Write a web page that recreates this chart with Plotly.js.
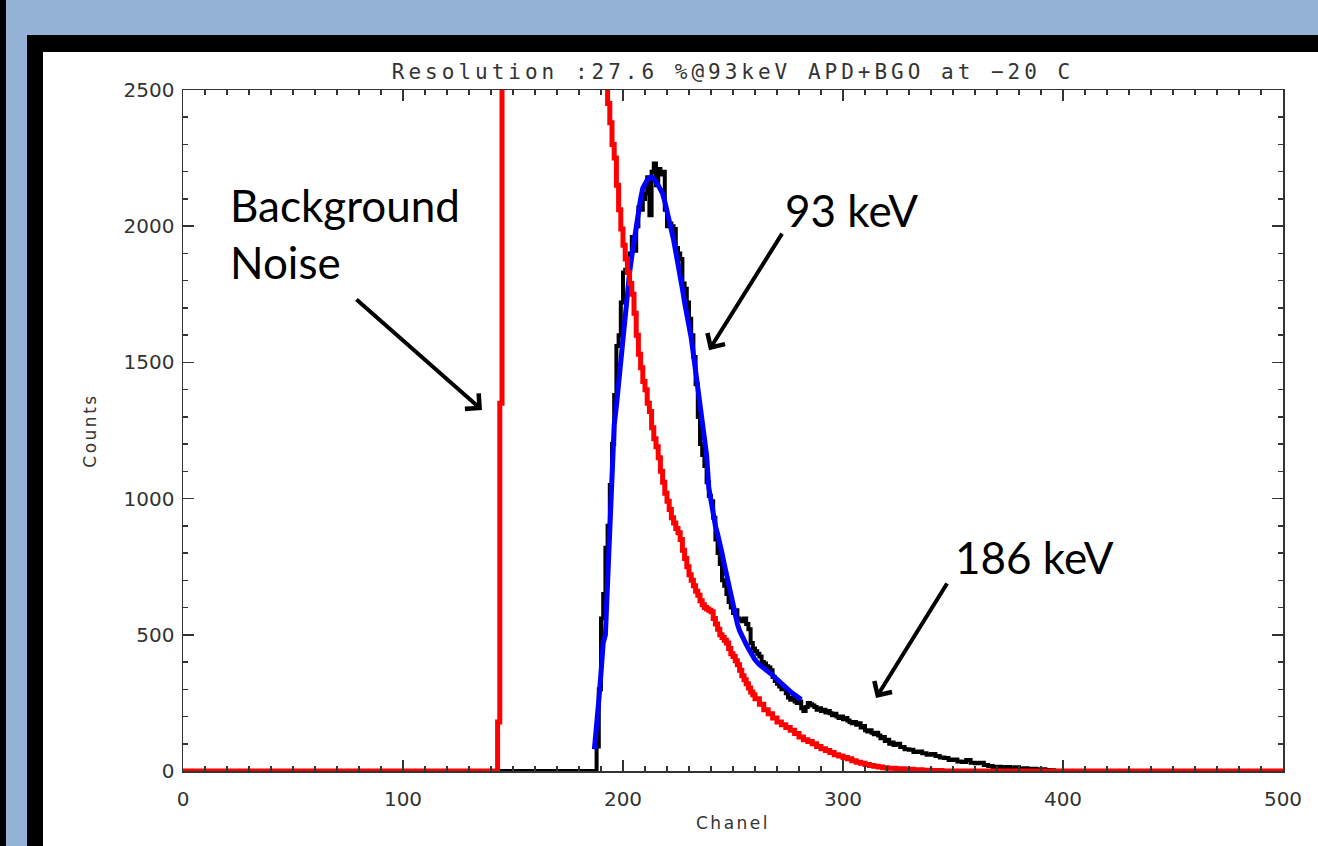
<!DOCTYPE html>
<html>
<head>
<meta charset="utf-8">
<script src="https://cdn.plot.ly/plotly-3.0.1.min.js"></script>
<style>
  html, body { margin:0; padding:0; background:#000; }
  #chart { width:1318px; height:846px; }
  .gtitle { letter-spacing: 4px; }
  .xtitle, .ytitle { letter-spacing: 2.5px; }
</style>
</head>
<body>
<div id="chart"></div>
<script>
// ---- Data ----
// Measured spectrum (black histogram)
const chanMeasured = [143, 187, 188, 189, 190, 191, 192, 193, 194, 195, 196, 197, 198, 199, 200,
  201, 202, 203, 204, 205, 206, 207, 208, 209, 210, 211, 212, 213, 214, 215, 216, 217, 218, 219, 220,
  221, 222, 223, 224, 225, 226, 227, 228, 229, 230, 231, 232, 233, 234, 235, 236, 237, 238, 239, 240,
  241, 242, 243, 244, 245, 246, 247, 248, 249, 250, 251, 252, 253, 254, 255, 256, 257, 258, 259, 260,
  261, 262, 263, 264, 265, 266, 267, 268, 269, 270, 271, 272, 273, 274, 275, 276, 277, 278, 279, 280,
  281, 282, 283, 284, 285, 286, 287, 288, 289, 290, 291, 292, 293, 294, 295, 296, 297, 298, 299, 300,
  301, 302, 303, 304, 305, 306, 307, 308, 309, 310, 311, 312, 313, 314, 315, 316, 317, 318, 319, 320,
  321, 322, 323, 324, 326, 328, 330, 332, 334, 336, 338, 340, 342, 344, 346, 348, 350, 352, 354, 356,
  358, 360, 362, 364, 366, 368, 370, 372, 374, 376, 378, 380, 382, 384, 386, 388, 390, 392, 394, 396];
const countsMeasured = [0, 0, 90, 300, 560, 650, 820, 900, 1050, 1200, 1380, 1560, 1600, 1720, 1830,
  1840, 1850, 1900, 1960, 1910, 2000, 2070, 2060, 2100, 2120, 2180, 2040, 2200, 2230, 2150, 2210, 2190, 2200, 2060, 2000,
  2010, 2000, 1990, 1920, 1900, 1880, 1790, 1770, 1720, 1660, 1600, 1520, 1420, 1300, 1200, 1160, 1120, 1060, 1010, 990,
  930, 850, 800, 760, 700, 680, 650, 620, 600, 580, 590, 560, 555, 550, 560, 540, 520, 470, 450, 440,
  430, 420, 400, 395, 385, 380, 370, 345, 330, 320, 310, 300, 305, 285, 270, 262, 268, 255, 250, 255,
  230, 220, 235, 250, 245, 240, 235, 225, 230, 220, 225, 215, 220, 212, 205, 210, 200, 195, 200, 190,
  195, 185, 180, 175, 180, 170, 175, 160, 165, 150, 145, 150, 140, 135, 140, 130, 120, 125, 110, 115,
  100, 105, 95, 100, 88, 80, 78, 70, 72, 65, 60, 62, 55, 50, 48, 40, 42, 35, 33, 40,
  30, 28, 30, 22, 18, 15, 16, 12, 15, 10, 14, 8, 10, 6, 8, 5, 6, 4, 3, 0];

// Background noise spectrum (red histogram; values between 145 and 192 run off the top of the axis)
const chanNoise = [0, 142, 143, 144, 145, 150, 160, 170, 180, 188, 191, 192, 193, 194, 195, 196, 197, 198, 199, 200,
  201, 202, 203, 204, 205, 206, 207, 208, 209, 210, 211, 212, 213, 214, 215, 216, 217, 218, 219, 220,
  221, 222, 223, 224, 225, 226, 227, 228, 229, 230, 231, 232, 233, 234, 235, 236, 237, 238, 239, 240,
  241, 242, 243, 244, 245, 246, 247, 248, 249, 250, 251, 252, 253, 254, 255, 256, 257, 258, 259, 260,
  262, 264, 266, 268, 270, 272, 274, 276, 278, 280, 282, 284, 286, 288, 290, 292, 294, 296, 298, 300,
  302, 304, 306, 308, 310, 312, 314, 316, 318, 320, 324, 328, 332, 336, 340, 345, 500];
const countsNoise = [0, 0, 180, 1350, 4000, 6000, 7000, 6500, 5000, 3500, 2800, 2650, 2450, 2380, 2300, 2250, 2150, 2060, 1990, 1930,
  1880, 1830, 1790, 1750, 1680, 1600, 1530, 1480, 1430, 1400, 1350, 1320, 1260, 1220, 1190, 1150, 1100, 1060, 1020, 990,
  960, 930, 910, 890, 875, 850, 810, 780, 750, 720, 700, 680, 660, 645, 625, 610, 600, 595, 590, 585,
  560, 540, 520, 500, 490, 480, 470, 450, 430, 420, 405, 390, 370, 350, 335, 320, 305, 290, 280, 265,
  245, 225, 210, 195, 180, 170, 160, 150, 138, 125, 115, 108, 100, 90, 82, 75, 68, 60, 55, 50,
  45, 38, 32, 28, 24, 20, 17, 15, 12, 10, 8, 6, 5, 3, 2, 0, 0];

// Fit of the 93 keV peak (blue curve)
const chanFit = [187, 188, 189, 190, 191, 192, 193, 194, 195, 196, 197, 198, 199, 200,
  201, 202, 203, 204, 205, 206, 207, 208, 209, 210, 211, 212, 213, 214, 215, 216, 217, 218, 219, 220,
  221, 222, 223, 224, 225, 226, 227, 228, 229, 230, 231, 232, 233, 234, 235, 236, 237, 238, 239, 240,
  241, 242, 243, 244, 245, 246, 247, 248, 249, 250, 251, 252, 253, 254, 255, 256, 257, 258, 259, 260,
  262, 264, 266, 268, 270, 272, 274, 276, 278, 280, 281];
const countsFit = [80, 150, 260, 360, 470, 500, 700, 930, 1150, 1270, 1340, 1420, 1530, 1620,
  1700, 1770, 1830, 1890, 1950, 2000, 2060, 2100, 2140, 2160, 2170, 2178, 2180, 2175, 2165, 2150, 2135, 2120, 2090, 2060,
  2020, 1985, 1950, 1910, 1870, 1820, 1770, 1720, 1680, 1640, 1590, 1530, 1470, 1420, 1370, 1300, 1230, 1160, 1040, 990,
  940, 900, 870, 840, 800, 760, 720, 680, 640, 600, 570, 540, 515, 495, 478, 465, 450, 437, 420, 408,
  390, 378, 366, 352, 336, 320, 305, 292, 280, 268, 262];

const chartTitle = 'Resolution :27.6 %@93keV APD+BGO at \u221220 C';
const xTitle = 'Chanel';
const yTitle = 'Counts';
const labelBackground = 'Background';
const labelNoise = 'Noise';
const label93 = '93 keV';
const label186 = '186 keV';

// ---- Pixel helpers for the slide frame (paper coords) ----
const PL = 183, PW = 1100, PB = 771, PH = 681;
const px = v => (v - PL) / PW;
const py = v => (PB - v) / PH;

const traces = [
  { x: chanMeasured, y: countsMeasured, mode: 'lines', line: { color: '#000000', width: 4, shape: 'hv' }, hoverinfo: 'x+y' },
  { x: chanFit, y: countsFit, mode: 'lines', line: { color: '#0000ff', width: 5 }, hoverinfo: 'x+y' },
  { x: chanNoise, y: countsNoise, mode: 'lines', line: { color: '#ff0000', width: 5, shape: 'hv' }, hoverinfo: 'x+y' }
];

const tickFont = { family: 'DejaVu Sans', size: 20, color: '#333' };
const axisCommon = {
  showline: true, linecolor: '#333', linewidth: 1.5, mirror: 'ticks',
  ticks: 'inside', ticklen: 11, tickwidth: 1.5, tickcolor: '#333',
  showgrid: false, zeroline: false, tickfont: tickFont, fixedrange: true
};

const annFont = { family: 'Lato', size: 44, color: '#000' };
function arrow(x, y, ax, ay) {
  return { x: x, y: y, xref: 'x', yref: 'y', ax: ax, ay: ay, text: '', showarrow: true,
    arrowhead: 4, arrowsize: 1, arrowwidth: 4, arrowcolor: '#000', standoff: 0 };
}

const layout = {
  width: 1318, height: 846,
  margin: { l: PL, r: 1318 - PL - PW, t: PB - PH, b: 846 - PB, pad: 0 },
  paper_bgcolor: '#000000',
  plot_bgcolor: '#ffffff',
  showlegend: false,
  title: { text: chartTitle, font: { family: 'DejaVu Sans Mono', size: 21, color: '#333' },
    xref: 'paper', x: 0.5, xanchor: 'center', yref: 'container', y: 1 - 72 / 846, yanchor: 'middle' },
  xaxis: Object.assign({}, axisCommon, {
    range: [0, 500], tick0: 0, dtick: 100, ticklabelstandoff: 9,
    minor: { dtick: 10, ticks: 'inside', ticklen: 5, tickwidth: 1.5, tickcolor: '#333', showgrid: false },
    title: { text: xTitle, font: { family: 'DejaVu Sans', size: 17, color: '#333' }, standoff: 7 }
  }),
  yaxis: Object.assign({}, axisCommon, {
    range: [0, 2500], tick0: 0, dtick: 500, ticklabelstandoff: 3,
    minor: { dtick: 100, ticks: 'inside', ticklen: 5, tickwidth: 1.5, tickcolor: '#333', showgrid: false },
    title: { text: yTitle, font: { family: 'DejaVu Sans', size: 17, color: '#333' }, standoff: 22 }
  }),
  shapes: [
    { type: 'rect', xref: 'paper', yref: 'paper', layer: 'below', x0: px(6), x1: 1.2, y0: -0.3, y1: 1.3,
      fillcolor: '#95b3d7', line: { width: 0 } },
    { type: 'rect', xref: 'paper', yref: 'paper', layer: 'below', x0: px(27), x1: 1.2, y0: -0.3, y1: py(35),
      fillcolor: '#000000', line: { width: 0 } },
    { type: 'rect', xref: 'paper', yref: 'paper', layer: 'below', x0: px(43), x1: 1.2, y0: -0.3, y1: py(52),
      fillcolor: '#ffffff', line: { width: 0 } },
    { type: 'rect', xref: 'paper', yref: 'paper', layer: 'below', x0: px(-5), x1: px(6), y0: -0.3, y1: 1.3,
      fillcolor: '#000000', line: { width: 0 } }
  ],
  annotations: [
    { x: 20.5, y: 2078, xref: 'x', yref: 'y', text: labelBackground, showarrow: false, xanchor: 'left', yanchor: 'middle', font: annFont },
    { x: 20.5, y: 1869, xref: 'x', yref: 'y', text: labelNoise, showarrow: false, xanchor: 'left', yanchor: 'middle', font: annFont },
    { x: 272.7, y: 2059, xref: 'x', yref: 'y', text: label93, showarrow: false, xanchor: 'left', yanchor: 'middle', font: annFont },
    { x: 350, y: 786, xref: 'x', yref: 'y', text: label186, showarrow: false, xanchor: 'left', yanchor: 'middle', font: annFont },
    arrow(135.9, 1325, -127, -112),
    arrow(239.1, 1545, 74, -118),
    arrow(315, 268, 72, -116)
  ]
};

Plotly.newPlot('chart', traces, layout, { displayModeBar: false, staticPlot: true });
</script>
</body>
</html>
